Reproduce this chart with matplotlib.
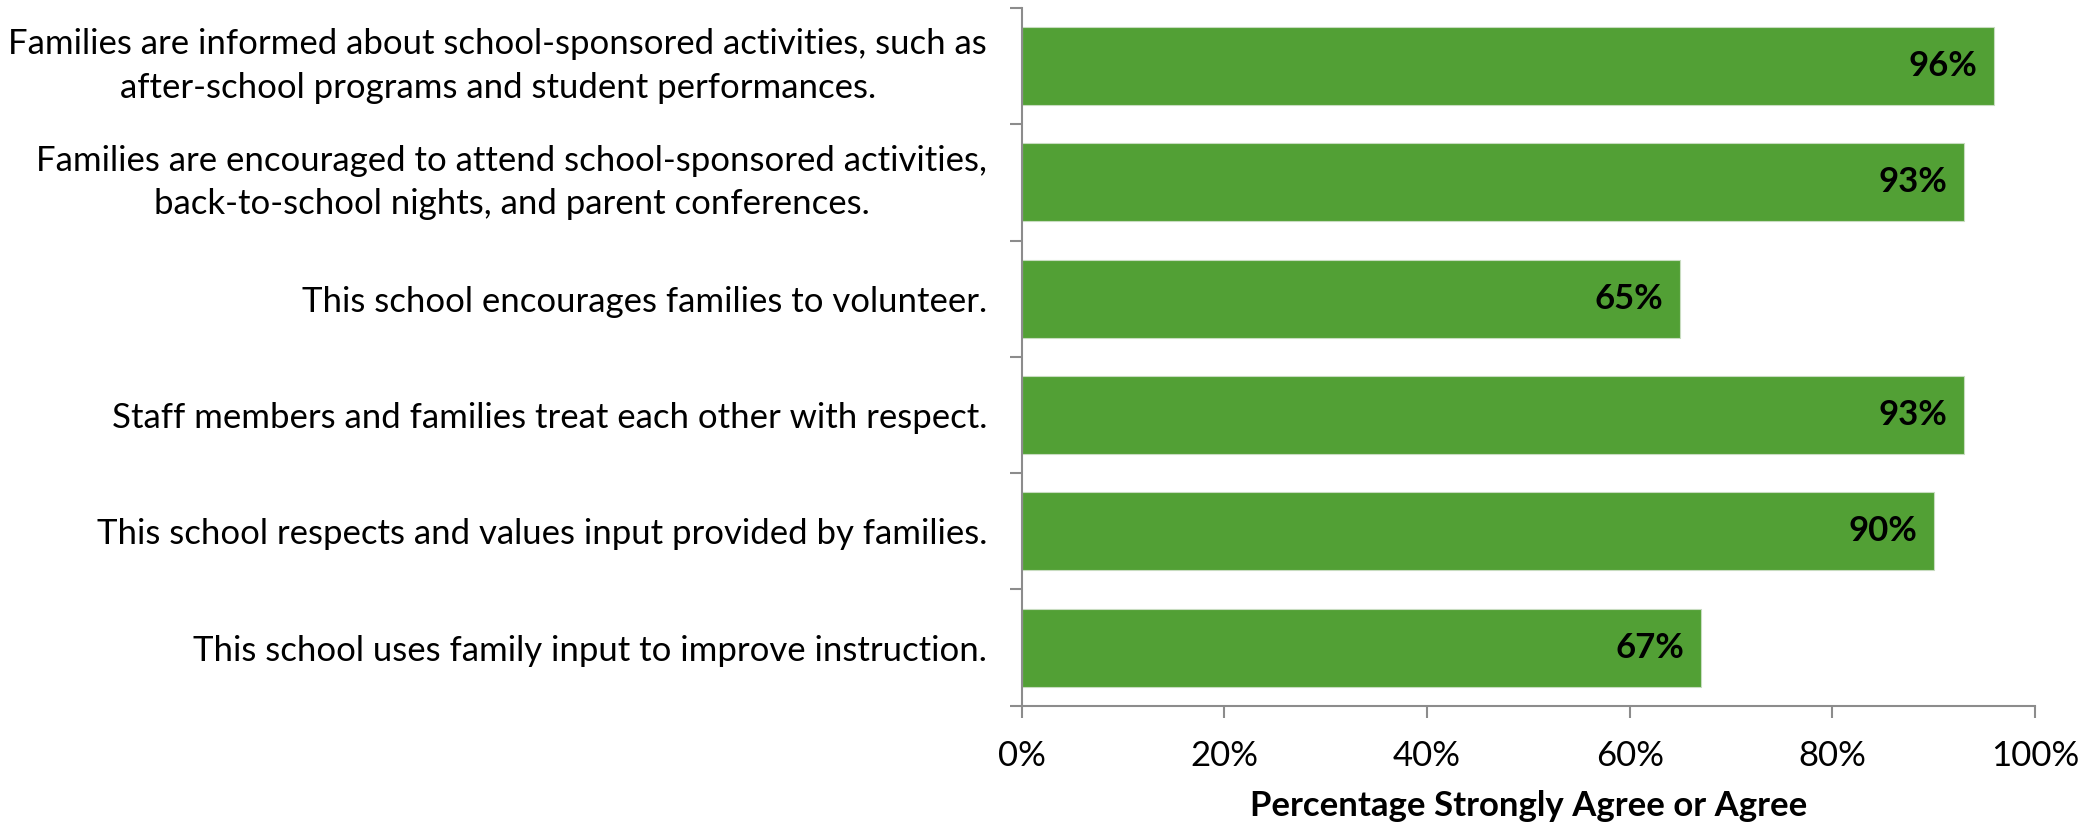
import matplotlib.pyplot as plt
import numpy as np

statements = [
    "Families are informed about school-sponsored activities, such as\nafter-school programs and student performances.",
    "Families are encouraged to attend school-sponsored activities,\nback-to-school nights, and parent conferences.",
    "This school encourages families to volunteer.",
    "Staff members and families treat each other with respect.",
    "This school respects and values input provided by families.",
    "This school uses family input to improve instruction.",
]
pct_agree = [96, 93, 65, 93, 90, 67]
xtick_vals = [0, 20, 40, 60, 80, 100]

plt.rcParams['font.family'] = ['Lato', 'DejaVu Sans']
green = '#52a035'
gray = '#8c8c8c'

fig = plt.figure(figsize=(20.94, 8.26), dpi=100)
ax = fig.add_axes([0.488, 0.1456, 0.4838, 0.8447])

y = np.arange(len(statements))
bars = ax.barh(y, pct_agree, height=0.67, color=green, edgecolor='#c8dcc0', linewidth=0.8)
ax.set_ylim(len(statements) - 0.5, -0.5)
ax.set_xlim(0, 100)

for yi, v in zip(y, pct_agree):
    ax.annotate(f"{v}%", xy=(v, yi), xytext=(-12, 0), textcoords='offset points',
                ha='right', va='center', fontsize=25, fontweight='bold', color='black')

ax.set_yticks(y)
ax.set_yticklabels(statements, fontsize=25, multialignment='center', linespacing=1.45)
for lbl in ax.get_yticklabels():
    if '\n' in lbl.get_text():
        lbl.set_va('center')
ax.set_yticks(np.arange(len(statements) + 1) - 0.5, minor=True)
ax.tick_params(axis='y', which='major', length=0, pad=25)
ax.tick_params(axis='y', which='minor', length=8.6, width=1.5, color=gray, direction='out')

ax.set_xticks(xtick_vals)
ax.set_xticklabels([f"{v}%" for v in xtick_vals], fontsize=25)
ax.tick_params(axis='x', length=8.6, width=1.5, color=gray, direction='out', pad=16)
ax.set_xlabel("Percentage Strongly Agree or Agree", fontsize=25, fontweight='bold', labelpad=13)

for s in ['top', 'right']:
    ax.spines[s].set_visible(False)
for s in ['left', 'bottom']:
    ax.spines[s].set_color(gray)
    ax.spines[s].set_linewidth(1.5)

fig.savefig('out.png', dpi=100)
